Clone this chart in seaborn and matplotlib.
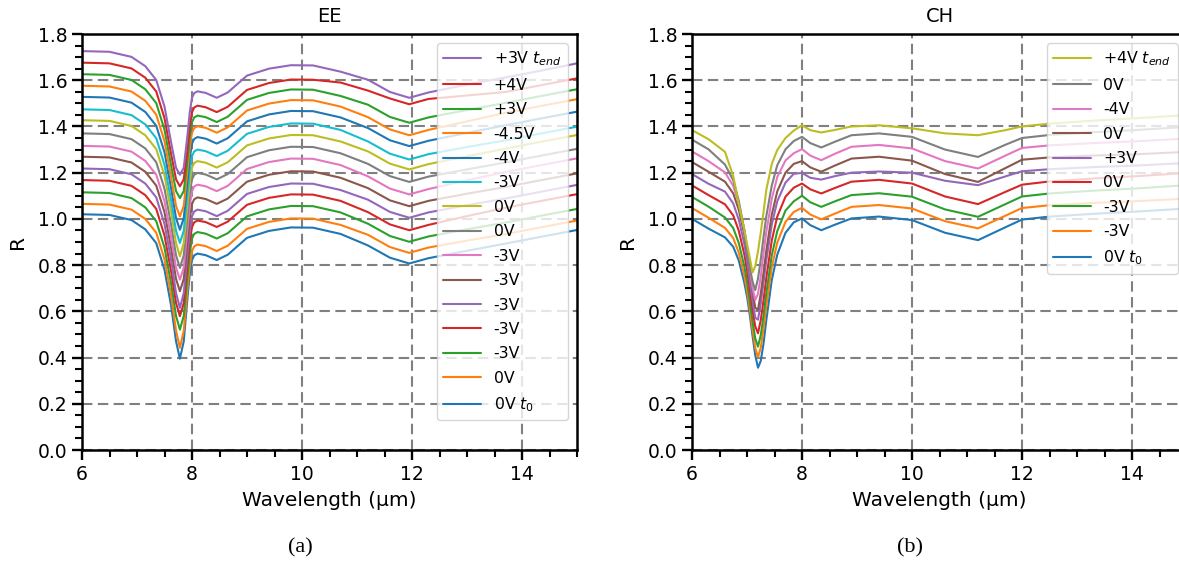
import matplotlib
matplotlib.use("Agg")
import matplotlib.pyplot as plt
from matplotlib.ticker import MultipleLocator
import seaborn as sns

# ---------------------------------------------------------------- EE panel
ee_wavelength = [6.0, 6.5, 6.9, 7.15, 7.35, 7.5, 7.62, 7.71, 7.78, 7.85, 7.92,
                 7.96, 8.0, 8.04, 8.1, 8.25, 8.45, 8.65, 9.0, 9.4, 9.8, 10.2,
                 10.7, 11.2, 11.6, 11.95, 12.3, 13.0, 13.7, 14.4, 15.0]

ee_labels = ["0V $t_0$", "0V", "-3V", "-3V", "-3V", "-3V", "-3V", "0V", "0V",
             "-3V", "-4V", "-4.5V", "+3V", "+4V", "+3V $t_{end}$"]

ee_01 = [1.020, 1.017, 0.995, 0.955, 0.895, 0.780, 0.625, 0.470, 0.395, 0.470, 0.665, 0.760, 0.822, 0.842, 0.850, 0.843, 0.822, 0.845, 0.918, 0.948, 0.963, 0.962, 0.935, 0.885, 0.832, 0.807, 0.830, 0.862, 0.893, 0.925, 0.952]
ee_02 = [1.065, 1.062, 1.040, 1.000, 0.940, 0.825, 0.670, 0.516, 0.442, 0.516, 0.704, 0.799, 0.861, 0.881, 0.889, 0.882, 0.861, 0.884, 0.957, 0.987, 1.002, 1.001, 0.974, 0.931, 0.878, 0.853, 0.876, 0.906, 0.934, 0.966, 0.993]
ee_03 = [1.115, 1.112, 1.090, 1.050, 0.990, 0.875, 0.720, 0.580, 0.521, 0.580, 0.758, 0.853, 0.915, 0.935, 0.943, 0.936, 0.915, 0.938, 1.011, 1.041, 1.056, 1.055, 1.028, 0.979, 0.926, 0.901, 0.924, 0.955, 0.984, 1.016, 1.043]
ee_04 = [1.168, 1.165, 1.143, 1.103, 1.043, 0.928, 0.773, 0.636, 0.579, 0.636, 0.808, 0.903, 0.965, 0.985, 0.993, 0.986, 0.965, 0.988, 1.061, 1.091, 1.106, 1.105, 1.078, 1.029, 0.976, 0.951, 0.974, 1.012, 1.048, 1.080, 1.107]
ee_05 = [1.218, 1.215, 1.193, 1.153, 1.093, 0.978, 0.823, 0.679, 0.615, 0.679, 0.855, 0.950, 1.012, 1.032, 1.040, 1.033, 1.012, 1.035, 1.108, 1.138, 1.153, 1.152, 1.125, 1.083, 1.030, 1.005, 1.028, 1.059, 1.088, 1.120, 1.147]
ee_06 = [1.269, 1.266, 1.244, 1.204, 1.144, 1.029, 0.874, 0.740, 0.687, 0.740, 0.908, 1.003, 1.065, 1.085, 1.093, 1.086, 1.065, 1.088, 1.161, 1.191, 1.206, 1.205, 1.178, 1.133, 1.080, 1.055, 1.078, 1.109, 1.138, 1.170, 1.197]
ee_07 = [1.316, 1.313, 1.291, 1.251, 1.191, 1.076, 0.921, 0.789, 0.737, 0.789, 0.963, 1.058, 1.120, 1.140, 1.148, 1.141, 1.120, 1.143, 1.216, 1.246, 1.261, 1.260, 1.233, 1.184, 1.131, 1.106, 1.129, 1.167, 1.203, 1.235, 1.262]
ee_08 = [1.370, 1.367, 1.345, 1.305, 1.245, 1.130, 0.975, 0.842, 0.788, 0.842, 1.014, 1.109, 1.171, 1.191, 1.199, 1.192, 1.171, 1.194, 1.267, 1.297, 1.312, 1.311, 1.284, 1.238, 1.185, 1.160, 1.183, 1.214, 1.244, 1.276, 1.303]
ee_09 = [1.427, 1.424, 1.402, 1.362, 1.302, 1.187, 1.032, 0.895, 0.838, 0.895, 1.065, 1.160, 1.222, 1.242, 1.250, 1.243, 1.222, 1.245, 1.318, 1.348, 1.363, 1.362, 1.335, 1.292, 1.239, 1.214, 1.237, 1.271, 1.304, 1.336, 1.363]
ee_10 = [1.474, 1.471, 1.449, 1.409, 1.349, 1.234, 1.079, 0.948, 0.896, 0.948, 1.115, 1.210, 1.272, 1.292, 1.300, 1.293, 1.272, 1.295, 1.368, 1.398, 1.413, 1.412, 1.385, 1.335, 1.282, 1.257, 1.280, 1.311, 1.340, 1.372, 1.399]
ee_11 = [1.528, 1.525, 1.503, 1.463, 1.403, 1.288, 1.133, 1.003, 0.953, 1.003, 1.169, 1.264, 1.326, 1.346, 1.354, 1.347, 1.326, 1.349, 1.422, 1.452, 1.467, 1.466, 1.439, 1.393, 1.340, 1.315, 1.338, 1.372, 1.405, 1.437, 1.464]
ee_12 = [1.576, 1.573, 1.551, 1.511, 1.451, 1.336, 1.181, 1.056, 1.011, 1.056, 1.216, 1.311, 1.373, 1.393, 1.401, 1.394, 1.373, 1.396, 1.469, 1.499, 1.514, 1.513, 1.486, 1.440, 1.387, 1.362, 1.385, 1.422, 1.459, 1.491, 1.518]
ee_13 = [1.626, 1.623, 1.601, 1.561, 1.501, 1.386, 1.231, 1.120, 1.090, 1.120, 1.262, 1.357, 1.419, 1.439, 1.447, 1.440, 1.419, 1.442, 1.515, 1.545, 1.560, 1.559, 1.532, 1.494, 1.441, 1.416, 1.439, 1.471, 1.502, 1.534, 1.561]
ee_14 = [1.676, 1.673, 1.651, 1.611, 1.551, 1.436, 1.281, 1.171, 1.141, 1.171, 1.305, 1.400, 1.462, 1.482, 1.490, 1.483, 1.462, 1.485, 1.558, 1.588, 1.603, 1.602, 1.590, 1.555, 1.521, 1.496, 1.519, 1.534, 1.549, 1.581, 1.608]
ee_15 = [1.726, 1.723, 1.701, 1.661, 1.601, 1.486, 1.331, 1.221, 1.191, 1.221, 1.367, 1.462, 1.524, 1.544, 1.552, 1.545, 1.524, 1.547, 1.620, 1.650, 1.665, 1.664, 1.637, 1.602, 1.549, 1.524, 1.547, 1.581, 1.612, 1.644, 1.673]

# ---------------------------------------------------------------- CH panel
ch_wavelength = [6.0, 6.3, 6.6, 6.75, 6.85, 6.95, 7.0, 7.05, 7.1, 7.15, 7.2,
                 7.25, 7.3, 7.35, 7.45, 7.55, 7.7, 7.85, 8.0, 8.15, 8.35, 8.6,
                 8.9, 9.4, 10.0, 10.6, 11.2, 11.7, 12.0, 12.5, 13.3, 14.1, 15.0]

ch_labels = ["0V $t_0$", "-3V", "-3V", "0V", "+3V", "0V", "-4V", "0V",
             "+4V $t_{end}$"]

ch_01 = [1.000, 0.958, 0.920, 0.879, 0.820, 0.725, 0.665, 0.585, 0.495, 0.410, 0.356, 0.385, 0.460, 0.560, 0.735, 0.845, 0.940, 0.985, 1.002, 0.973, 0.951, 0.975, 1.002, 1.010, 0.995, 0.940, 0.908, 0.964, 0.997, 1.010, 1.022, 1.032, 1.045]
ch_02 = [1.047, 1.005, 0.961, 0.917, 0.854, 0.756, 0.692, 0.610, 0.521, 0.442, 0.401, 0.443, 0.523, 0.621, 0.790, 0.897, 0.987, 1.030, 1.048, 1.019, 0.998, 1.023, 1.052, 1.060, 1.045, 0.990, 0.959, 1.014, 1.047, 1.059, 1.069, 1.077, 1.088]
ch_03 = [1.095, 1.053, 1.006, 0.960, 0.896, 0.796, 0.730, 0.647, 0.559, 0.483, 0.447, 0.497, 0.579, 0.676, 0.842, 0.947, 1.036, 1.076, 1.100, 1.072, 1.052, 1.076, 1.103, 1.111, 1.096, 1.041, 1.009, 1.064, 1.097, 1.110, 1.122, 1.132, 1.146]
ch_04 = [1.145, 1.103, 1.063, 1.015, 0.949, 0.848, 0.780, 0.696, 0.608, 0.535, 0.505, 0.562, 0.647, 0.743, 0.906, 1.010, 1.096, 1.135, 1.153, 1.128, 1.110, 1.134, 1.161, 1.169, 1.153, 1.097, 1.064, 1.117, 1.148, 1.162, 1.175, 1.185, 1.199]
ch_05 = [1.194, 1.152, 1.118, 1.067, 0.997, 0.893, 0.821, 0.735, 0.648, 0.572, 0.564, 0.634, 0.724, 0.818, 0.975, 1.076, 1.157, 1.195, 1.199, 1.178, 1.170, 1.185, 1.200, 1.205, 1.200, 1.165, 1.146, 1.184, 1.206, 1.215, 1.224, 1.231, 1.242]
ch_06 = [1.246, 1.204, 1.161, 1.110, 1.040, 0.936, 0.864, 0.778, 0.691, 0.615, 0.607, 0.677, 0.767, 0.861, 1.018, 1.119, 1.200, 1.238, 1.250, 1.223, 1.204, 1.231, 1.261, 1.269, 1.252, 1.194, 1.160, 1.220, 1.256, 1.266, 1.274, 1.280, 1.290]
ch_07 = [1.292, 1.250, 1.201, 1.143, 1.066, 0.956, 0.876, 0.786, 0.701, 0.649, 0.676, 0.751, 0.851, 0.941, 1.086, 1.181, 1.253, 1.284, 1.302, 1.274, 1.254, 1.282, 1.312, 1.320, 1.305, 1.250, 1.218, 1.274, 1.307, 1.318, 1.328, 1.336, 1.348]
ch_08 = [1.343, 1.301, 1.235, 1.167, 1.079, 0.951, 0.865, 0.790, 0.730, 0.692, 0.742, 0.824, 0.921, 1.010, 1.144, 1.232, 1.301, 1.337, 1.355, 1.328, 1.309, 1.334, 1.362, 1.370, 1.355, 1.300, 1.268, 1.321, 1.350, 1.363, 1.375, 1.385, 1.398]
ch_09 = [1.384, 1.345, 1.290, 1.185, 1.065, 0.955, 0.893, 0.832, 0.768, 0.795, 0.860, 0.940, 1.029, 1.124, 1.237, 1.298, 1.350, 1.382, 1.405, 1.384, 1.374, 1.385, 1.400, 1.405, 1.392, 1.370, 1.362, 1.384, 1.400, 1.412, 1.425, 1.436, 1.449]

ee_series = [ee_01, ee_02, ee_03, ee_04, ee_05, ee_06, ee_07, ee_08, ee_09,
             ee_10, ee_11, ee_12, ee_13, ee_14, ee_15]
ch_series = [ch_01, ch_02, ch_03, ch_04, ch_05, ch_06, ch_07, ch_08, ch_09]

# ---------------------------------------------------------------- styling
sns.set_style("white")
plt.rcParams["font.family"] = ["DejaVu Sans"]
plt.rcParams["mathtext.fontset"] = "dejavusans"
for key in ("text.color", "axes.labelcolor", "xtick.color", "ytick.color"):
    plt.rcParams[key] = "black"

palette = sns.color_palette("tab10")

W, H = 1179, 571
fig = plt.figure(figsize=(W / 100, H / 100), dpi=100)
fig.patch.set_facecolor("white")


def box(x0, y_top, w, h):
    return [x0 / W, 1 - (y_top + h) / H, w / W, h / H]


ax_ee = fig.add_axes(box(82, 34, 495, 416))
ax_ch = fig.add_axes(box(692, 34, 495, 416))


def draw_panel(ax, wavelength, series, labels, title):
    for i, (vals, lab) in enumerate(zip(series, labels)):
        sns.lineplot(x=wavelength, y=vals, ax=ax, color=palette[i % 10],
                     linewidth=1.5, label=lab)
    ax.set_xlim(6, 15)
    ax.set_ylim(0, 1.8)
    ax.xaxis.set_major_locator(MultipleLocator(2))
    ax.xaxis.set_minor_locator(MultipleLocator(0.5))
    ax.yaxis.set_major_locator(MultipleLocator(0.2))
    ax.yaxis.set_minor_locator(MultipleLocator(0.05))
    ax.grid(True, which="major", color="#808080", linestyle=(0, (5, 2.6)),
            linewidth=1.5)
    ax.set_axisbelow(True)
    for sp in ax.spines.values():
        sp.set_visible(True)
        sp.set_color("black")
        sp.set_linewidth(1.8)
    ax.tick_params(which="major", direction="out", length=7, width=1.7,
                   labelsize=13.5, left=True, bottom=True, colors="black")
    ax.tick_params(which="minor", direction="out", length=5, width=1.5,
                   left=True, bottom=True, colors="black")
    ax.set_xlabel("Wavelength (μm)", fontsize=14.5, labelpad=5)
    ax.set_ylabel("R", fontsize=14.5, labelpad=8)
    ax.set_title(title, fontsize=14, pad=9)
    handles, labs = ax.get_legend_handles_labels()
    ax.legend(handles[::-1], labs[::-1], loc="upper right", fontsize=11.3,
              handlelength=2.4, labelspacing=0.6, borderaxespad=0.6,
              framealpha=0.8)


draw_panel(ax_ee, ee_wavelength, ee_series, ee_labels, "EE")
draw_panel(ax_ch, ch_wavelength, ch_series, ch_labels, "CH")

fig.text(300 / W, 1 - 548 / H, "(a)", ha="center", va="center",
         fontsize=16, family="Liberation Serif")
fig.text(910 / W, 1 - 548 / H, "(b)", ha="center", va="center",
         fontsize=16, family="Liberation Serif")

fig.savefig("out.png", dpi=100)
